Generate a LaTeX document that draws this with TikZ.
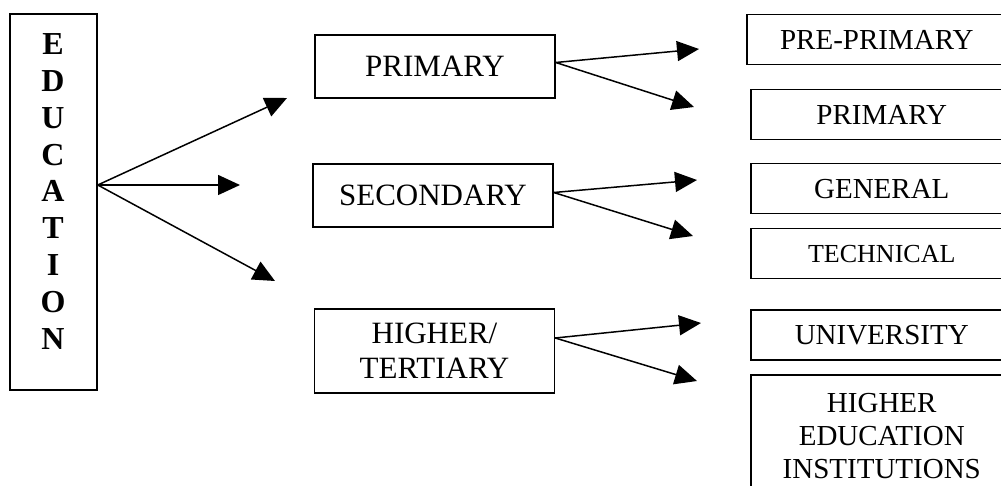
\documentclass[tikz,border=0pt]{standalone}
\usepackage{fontspec}
\setmainfont{Liberation Serif}
\usetikzlibrary{arrows.meta}
\begin{document}
\begin{tikzpicture}[x=1pt,y=1pt]
            \tikzset{
                main box/.style={draw,line width=1.5pt,inner sep=0pt,minimum width=240pt,minimum height=63pt,align=center,font=\fontsize{31}{35}\selectfont},
                leaf box/.style={draw,line width=1.5pt,inner sep=0pt,minimum width=262pt,minimum height=50pt,anchor=north west,align=center,font=\fontsize{29}{33}\selectfont},
                branch/.style={line width=1.5pt,-{Triangle[length=22pt,width=20pt]}}
            }
            \useasboundingbox (0,0) rectangle (1001,-486);
            % left column
            \node[draw,line width=1.5pt,minimum width=87pt,minimum height=376pt] (edu) at (53.5,-202) {};
            \node[align=center,inner sep=0pt,font=\fontsize{32}{36.9}\selectfont\bfseries] (edu text) at (53,-191.5) {E\\D\\U\\C\\A\\T\\I\\O\\N};
            % levels
            \node[main box] (prim) at (435,-66.5) {PRIMARY};
            \node[main box] (sec) at (433,-195.5) {SECONDARY};
            \node[main box,minimum height=84pt] (high) at (434.5,-351) {HIGHER/\\TERTIARY};
            % sub-levels
            \node[leaf box,minimum width=260pt] (prepri) at (746,-14) {PRE-PRIMARY};
            \node[leaf box] (pri) at (750,-89) {PRIMARY};
            \node[leaf box] (gen) at (750,-163) {GENERAL};
            \node[leaf box,font=\fontsize{26}{30}\selectfont] (tech) at (750,-228) {TECHNICAL};
            \node[leaf box] (uni) at (750,-309) {UNIVERSITY};
            \node[leaf box,inner ysep=19pt] (hei) at (750,-374) {HIGHER\\EDUCATION\\INSTITUTIONS};
            % arrow ends
            \coordinate (to prim) at (287,-98);
            \coordinate (to sec) at (240,-185);
            \coordinate (to high) at (275,-281);
            \coordinate (to prepri) at (699,-49);
            \coordinate (to pri) at (694,-107);
            \coordinate (to gen) at (697,-180);
            \coordinate (to tech) at (693,-236);
            \coordinate (to uni) at (701,-323);
            \coordinate (to hei) at (697,-381);
            \draw[branch] ([yshift=17pt]edu.east) -- (to prim);
            \draw[branch] ([yshift=17pt]edu.east) -- (to sec);
            \draw[branch] ([yshift=17pt]edu.east) -- (to high);
            \draw[branch] ([yshift=4pt]prim.east) -- (to prepri);
            \draw[branch] ([yshift=4pt]prim.east) -- (to pri);
            \draw[branch] ([yshift=3pt]sec.east) -- (to gen);
            \draw[branch] ([yshift=3pt]sec.east) -- (to tech);
            \draw[branch] ([yshift=13pt]high.east) -- (to uni);
            \draw[branch] ([yshift=13pt]high.east) -- (to hei);
\end{tikzpicture}
\end{document}
